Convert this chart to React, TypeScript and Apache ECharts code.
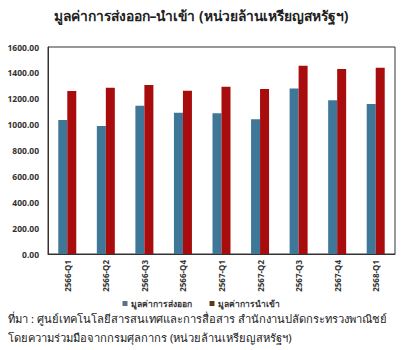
import React, { useEffect, useRef } from "react";
import * as echarts from "echarts";

const categories = ["2566-Q1", "2566-Q2", "2566-Q3", "2566-Q4", "2567-Q1", "2567-Q2", "2567-Q3", "2567-Q4", "2568-Q1"];
const exportValues = [1035, 989, 1146, 1092, 1087, 1041, 1280, 1188, 1159];
const importValues = [1260, 1285, 1306, 1262, 1293, 1275, 1455, 1430, 1440];
const seriesNames = ["มูลค่าการส่งออก", "มูลค่าการนำเข้า"];
const titleText = "มูลค่าการส่งออก–นำเข้า (หน่วยล้านเหรียญสหรัฐฯ)";
const sourceLine1 = "ที่มา : ศูนย์เทคโนโลยีสารสนเทศและการสื่อสาร สำนักงานปลัดกระทรวงพาณิชย์";
const sourceLine2 = "โดยความร่วมมือจากกรมศุลกากร (หน่วยล้านเหรียญสหรัฐฯ)";

const FONT = "Tahoma, 'Noto Sans', 'DejaVu Sans', sans-serif";

export default function App() {
  const ref = useRef<HTMLDivElement>(null);
  useEffect(() => {
    if (!ref.current) return;
    const chart = echarts.init(ref.current, null, { renderer: "svg" });
    chart.setOption({
      animation: false,
      backgroundColor: "#ffffff",
      title: {
        text: titleText,
        left: "center",
        top: 3,
        textStyle: { fontSize: 13.8, fontWeight: "bold", color: "#222", fontFamily: FONT },
      },
      grid: { left: 48, right: 7, top: 47, bottom: 96, show: true, borderColor: "#333", borderWidth: 1, backgroundColor: "transparent" },
      legend: {
        data: [
          { name: seriesNames[0], itemStyle: { color: "#5f6f8e" } },
          { name: seriesNames[1], itemStyle: { color: "#5e3a12" } },
        ],
        top: 299,
        left: "center",
        padding: 0,
        itemWidth: 5,
        itemHeight: 5,
        itemGap: 18,
        icon: "rect",
        textStyle: { fontSize: 8.5, fontWeight: "bold", color: "#333", fontFamily: FONT, padding: [0, 0, 0, -2] },
      },
      xAxis: {
        type: "category",
        data: categories,
        axisLine: { lineStyle: { color: "#333" } },
        axisTick: { show: false },
        axisLabel: { rotate: 90, fontSize: 8, fontWeight: "bold", color: "#333", fontFamily: FONT, margin: 6 },
      },
      yAxis: {
        type: "value",
        min: 0,
        max: 1600,
        interval: 200,
        axisLine: { show: true, lineStyle: { color: "#333" } },
        splitLine: { show: false },
        axisLabel: {
          fontSize: 8.5,
          fontWeight: "bold",
          color: "#333",
          fontFamily: FONT,
          margin: 9,
          formatter: (v: number) => v.toFixed(2),
        },
      },
      series: [
        { name: seriesNames[0], type: "bar", data: exportValues, barWidth: 9, barGap: "0%", itemStyle: { color: "#3f7798" } },
        { name: seriesNames[1], type: "bar", data: importValues, barWidth: 9, barGap: "0%", itemStyle: { color: "#a80c0c" } },
      ],
      graphic: [
        { type: "text", left: 8, top: 313, style: { text: sourceLine1, fontSize: 11.2, fill: "#222", fontFamily: FONT } },
        { type: "text", left: 8, top: 332, style: { text: sourceLine2, fontSize: 11.2, fill: "#222", fontFamily: FONT } },
      ],
    });
    return () => chart.dispose();
  }, []);
  return <div ref={ref} style={{ width: 402, height: 350, position: "absolute", left: 0, top: 0 }} />;
}
